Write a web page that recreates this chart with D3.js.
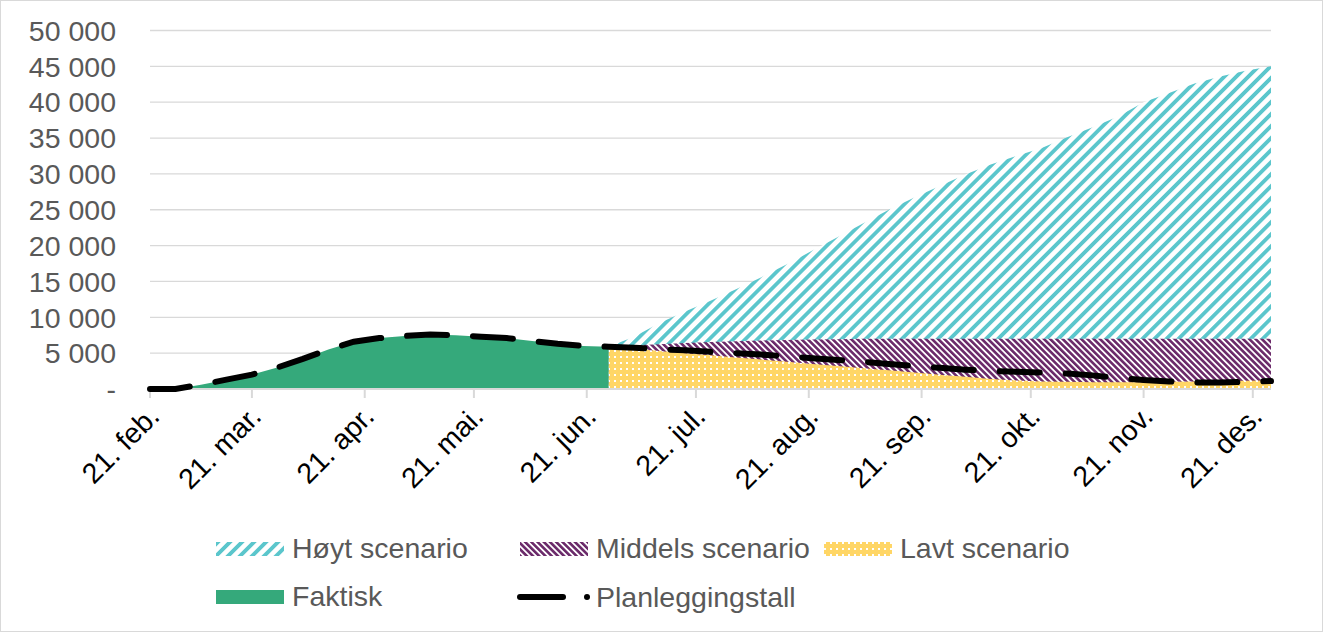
<!DOCTYPE html>
<html><head><meta charset="utf-8">
<script src="https://cdn.jsdelivr.net/npm/d3@7"></script>
<style>
html,body{margin:0;padding:0;background:#fff;}
svg{display:block;font-family:"Liberation Sans",Arial,sans-serif;}
</style></head>
<body>
<svg id="chart" width="1323" height="632"></svg>
<script>
// ---- data (weekly, starting 21 Feb) ----
const startDate = "2021-02-21";
const weeks = 45;
const faktisk = [0,0,600,1300,2000,3000,4200,5500,6600,7100,7400,7600,7500,7300,7100,6700,6300,6000,5900];
const planlegging = [0,0,600,1300,2000,3000,4200,5500,6600,7100,7400,7600,7500,7300,7100,6700,6300,6000,
  5900,5750,5550,5400,5200,5000,4800,4550,4300,4050,3800,3500,3200,2950,2700,2500,2400,2300,2150,1900,1550,1250,1050,900,900,1000,1100];
const scenarioStart = 18;
const hoyt = [5900,7300,9200,10800,12300,13900,15600,17400,19300,21200,23100,25000,26700,28300,29900,31300,32500,33600,35100,36500,38000,40000,41300,42600,43600,44400,45000];
const middels = [5900,6100,6250,6400,6550,6650,6750,6850,6900,6950,7000,7000,7000,7000,7000,7000,7000,7000,7000,7000,7000,7000,7000,7000,7000,7000,7000];
const lavt = [5900,5600,5300,5000,4700,4400,4100,3800,3500,3200,2900,2600,2300,2000,1700,1400,1200,1050,1000,950,950,950,1000,1050,1100,1150,1200];
const tickDates = ["2021-02-21","2021-03-21","2021-04-21","2021-05-21","2021-06-21","2021-07-21","2021-08-21","2021-09-21","2021-10-21","2021-11-21","2021-12-21"];
const tickLabels = ["21. feb.","21. mar.","21. apr.","21. mai.","21. jun.","21. jul.","21. aug.","21. sep.","21. okt.","21. nov.","21. des."];
const yTicks = [0,5000,10000,15000,20000,25000,30000,35000,40000,45000,50000];
const legendNames = ["Høyt scenario","Middels scenario","Lavt scenario","Faktisk","Planleggingstall"];

// ---- build ----
const parse = d3.utcParse("%Y-%m-%d");
const d0 = parse(startDate);
const dateAt = i => d3.utcDay.offset(d0, 7*i);
const svg = d3.select("#chart");
const W = 1323, H = 632, FS = 28.5;
svg.append("rect").attr("x",0.5).attr("y",0.5).attr("width",W-1).attr("height",H-1)
  .attr("fill","#fff").attr("stroke","#d9d9d9");

const x = d3.scaleUtc().domain([d0, dateAt(weeks-1)]).range([150, 1271]);
const y = d3.scaleLinear().domain([0,50000]).range([389, 30.5]);

const defs = svg.append("defs");
const pH = defs.append("pattern").attr("id","pHoyt").attr("patternUnits","userSpaceOnUse")
  .attr("width",8.5).attr("height",8.5).attr("patternTransform","rotate(45)");
pH.append("rect").attr("width",8.5).attr("height",8.5).attr("fill","#fff");
pH.append("rect").attr("x",0).attr("width",3.8).attr("height",8.5).attr("fill","#5bc6cc");
const pM = defs.append("pattern").attr("id","pMid").attr("patternUnits","userSpaceOnUse")
  .attr("width",4.4).attr("height",4.4).attr("patternTransform","rotate(-45)");
pM.append("rect").attr("width",4.4).attr("height",4.4).attr("fill","#fff");
pM.append("rect").attr("width",2.6).attr("height",4.4).attr("fill","#6b2a6a");
const pL = defs.append("pattern").attr("id","pLavt").attr("patternUnits","userSpaceOnUse")
  .attr("width",6).attr("height",6);
pL.append("rect").attr("width",6).attr("height",6).attr("fill","#ffd666");
pL.append("rect").attr("x",2).attr("y",2).attr("width",2).attr("height",2).attr("fill","#fff");

// gridlines
svg.append("g").selectAll("line").data(yTicks.filter(v=>v>0)).join("line")
  .attr("x1",150).attr("x2",1271).attr("y1",d=>y(d)).attr("y2",d=>y(d))
  .attr("stroke","#d9d9d9").attr("stroke-width",1.3);

// y labels
svg.append("g").selectAll("text").data(yTicks).join("text")
  .attr("x",116).attr("y",d=>y(d)).attr("dy","0.36em").attr("text-anchor","end")
  .attr("font-size",FS).attr("fill","#595959")
  .text(d=> d===0 ? "-" : d3.format(",")(d).replace(/,/g," "));

const area = (arr, off) => d3.area()
  .x((d,i)=>x(dateAt(i+off))).y0(y(0)).y1(d=>y(d))(arr);

svg.append("path").attr("d",area(hoyt,scenarioStart)).attr("fill","url(#pHoyt)");
svg.append("path").attr("d",area(middels,scenarioStart)).attr("fill","url(#pMid)");
svg.append("path").attr("d",area(lavt,scenarioStart)).attr("fill","url(#pLavt)");
svg.append("path").attr("d",area(faktisk,0)).attr("fill","#35a97b");

// x axis line + ticks
svg.append("line").attr("x1",150).attr("x2",1271).attr("y1",y(0)).attr("y2",y(0))
  .attr("stroke","#d9d9d9").attr("stroke-width",2);
const tg = svg.append("g");
tickDates.forEach((t,i)=>{
  const tx = x(parse(t));
  tg.append("line").attr("x1",tx).attr("x2",tx).attr("y1",y(0)).attr("y2",y(0)+9)
    .attr("stroke","#d9d9d9").attr("stroke-width",2);
  tg.append("text").attr("transform",`translate(${tx+4},${y(0)+22}) rotate(-45)`)
    .attr("text-anchor","end").attr("dy","0.35em").attr("font-size",FS).attr("fill","#000")
    .text(tickLabels[i]);
});

// planleggingstall line
const line = d3.line().x((d,i)=>x(dateAt(i))).y(d=>y(d));
svg.append("path").attr("d",line(planlegging)).attr("fill","none").attr("stroke","#000")
  .attr("stroke-width",6).attr("stroke-linecap","round").attr("stroke-dasharray","40,26");

// legend
const lg = svg.append("g").attr("font-size",FS).attr("fill","#595959");
const items = [
  {x:216,y:542,fill:"url(#pHoyt)",name:legendNames[0]},
  {x:520,y:542,fill:"url(#pMid)",name:legendNames[1]},
  {x:824,y:542,fill:"url(#pLavt)",name:legendNames[2]},
  {x:216,y:590,fill:"#35a97b",name:legendNames[3]}
];
items.forEach(it=>{
  lg.append("rect").attr("x",it.x).attr("y",it.y).attr("width",68).attr("height",14).attr("fill",it.fill);
  lg.append("text").attr("x",it.x+76).attr("y",it.y+16).text(it.name);
});
lg.append("line").attr("x1",520).attr("x2",563).attr("y1",597).attr("y2",597)
  .attr("stroke","#000").attr("stroke-width",6).attr("stroke-linecap","round");
lg.append("circle").attr("cx",587).attr("cy",597).attr("r",3).attr("fill","#000");
lg.append("text").attr("x",596).attr("y",607).text(legendNames[4]);
</script>
</body></html>
